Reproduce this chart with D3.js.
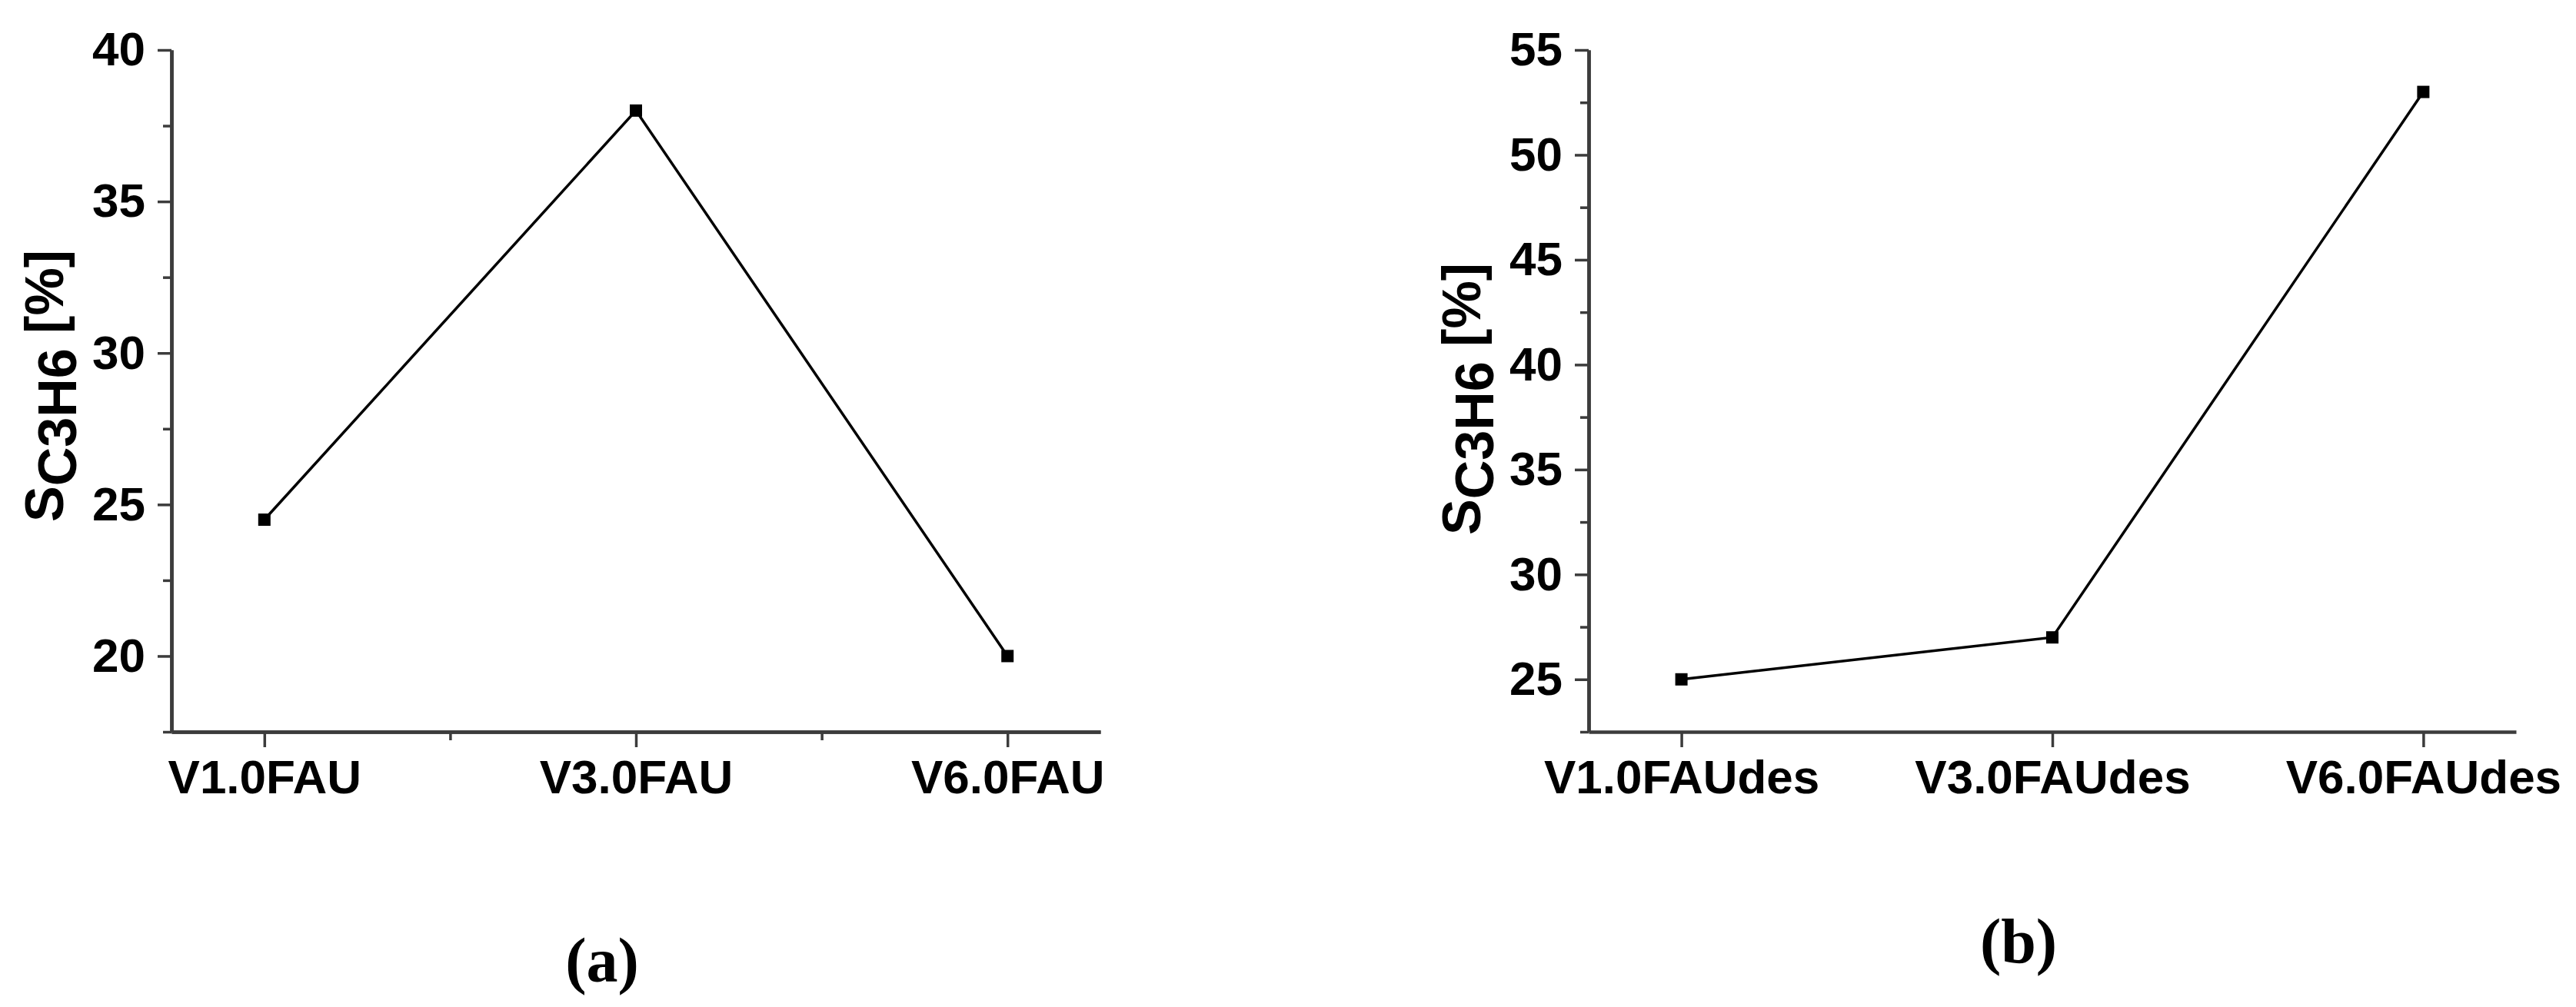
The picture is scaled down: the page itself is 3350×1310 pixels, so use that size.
<!DOCTYPE html>
<html>
<head>
<meta charset="utf-8">
<script src="https://cdn.jsdelivr.net/npm/d3@7"></script>
<style>
  body { margin: 0; background: #fff; }
  text { font-family: "Liberation Sans", Arial, sans-serif; font-weight: bold; fill: #000; }
  .panel-label { font-family: "Liberation Serif", "Times New Roman", serif; }
</style>
</head>
<body>
<div class="chart"></div>
<script>
// values
const catsA = ['V1.0FAU', 'V3.0FAU', 'V6.0FAU']
const valsA = [24.5, 38, 20]
const yTicksA = [20, 25, 30, 35, 40]
const yMinorA = [17.5, 22.5, 27.5, 32.5, 37.5]
const yDomainA = [17.5, 40]

const catsB = ['V1.0FAUdes', 'V3.0FAUdes', 'V6.0FAUdes']
const valsB = [25, 27, 53]
const yTicksB = [25, 30, 35, 40, 45, 50, 55]
const yMinorB = [22.5, 27.5, 32.5, 37.5, 42.5, 47.5, 52.5]
const yDomainB = [22.5, 55]

const panelLabels = ['(a)', '(b)']

const width = 3350, height = 1310

const svg = d3.select('.chart').append('svg')
  .attr('width', width)
  .attr('height', height)

svg.append('rect').attr('width', width).attr('height', height).attr('fill', '#fff')

function panel(cfg) {
  const g = svg.append('g')

  const x = d3.scaleLinear()
    .domain([0.75, 3.25])
    .range([cfg.left, cfg.right])

  const y = d3.scaleLinear()
    .domain(cfg.yDomain)
    .range([cfg.bottom, cfg.top])

  // minor y ticks
  g.append('g')
    .attr('class', 'axis')
    .attr('transform', `translate(${cfg.left},0)`)
    .call(d3.axisLeft(y).tickValues(cfg.yMinor).tickSize(11).tickSizeOuter(0).tickFormat(''))

  // major y axis
  g.append('g')
    .attr('class', 'axis')
    .attr('transform', `translate(${cfg.left},0)`)
    .call(d3.axisLeft(y).tickValues(cfg.yTicks).tickSize(18).tickSizeOuter(0).tickPadding(16))

  // minor x ticks
  if (cfg.xMinor) {
    g.append('g')
      .attr('class', 'axis')
      .attr('transform', `translate(0,${cfg.bottom})`)
      .call(d3.axisBottom(x).tickValues([1.5, 2.5]).tickSize(11).tickSizeOuter(0).tickFormat(''))
  }

  // major x axis
  g.append('g')
    .attr('class', 'axis')
    .attr('transform', `translate(0,${cfg.bottom})`)
    .call(d3.axisBottom(x).tickValues([1, 2, 3]).tickSize(20).tickSizeOuter(0).tickPadding(16)
      .tickFormat(i => cfg.cats[i - 1]))

  g.selectAll('.axis path.domain')
    .attr('stroke', '#3c3c3c')
    .attr('stroke-width', 4.5)
  g.selectAll('.axis .tick line')
    .attr('stroke', '#3c3c3c')
    .attr('stroke-width', 3.5)
  g.selectAll('.axis .tick text')
    .attr('font-size', 62)
    .attr('fill', '#000')
    .style('font-family', '"Liberation Sans", Arial, sans-serif')
    .style('font-weight', 'bold')

  const line = d3.line()
    .x((d, i) => x(i + 1))
    .y(d => y(d))

  g.append('path')
    .datum(cfg.vals)
    .attr('d', line)
    .attr('fill', 'none')
    .attr('stroke', '#000')
    .attr('stroke-width', 3.5)

  g.selectAll('.marker')
    .data(cfg.vals)
    .enter()
    .append('rect')
    .attr('class', 'marker')
    .attr('x', (d, i) => x(i + 1) - 8)
    .attr('y', d => y(d) - 8)
    .attr('width', 16)
    .attr('height', 16)
    .attr('fill', '#000')

  // y title: S with subscript C3H6
  const t = g.append('text')
    .attr('transform', `translate(${cfg.left - 141},${cfg.titleY}) rotate(-90)`)
    .attr('text-anchor', 'middle')
    .attr('font-size', 70)
  t.append('tspan').text('S')
  t.append('tspan').attr('dy', 17).text('C3H6')
  t.append('tspan').attr('dy', -17).text(' [%]')

  g.append('text')
    .attr('class', 'panel-label')
    .attr('x', (cfg.left + cfg.right) / 2 - 44)
    .attr('y', cfg.labelY)
    .attr('text-anchor', 'middle')
    .attr('font-size', 82)
    .text(cfg.label)
}

panel({cats: catsA, vals: valsA, yTicks: yTicksA, yMinor: yMinorA, yDomain: yDomainA,
  left: 223, right: 1431, top: 65, bottom: 952, xMinor: true, titleY: 502, labelY: 1277, label: panelLabels[0]})

panel({cats: catsB, vals: valsB, yTicks: yTicksB, yMinor: yMinorB, yDomain: yDomainB,
  left: 2066, right: 3272, top: 65, bottom: 952, xMinor: false, titleY: 519, labelY: 1252, label: panelLabels[1]})
</script>
</body>
</html>
